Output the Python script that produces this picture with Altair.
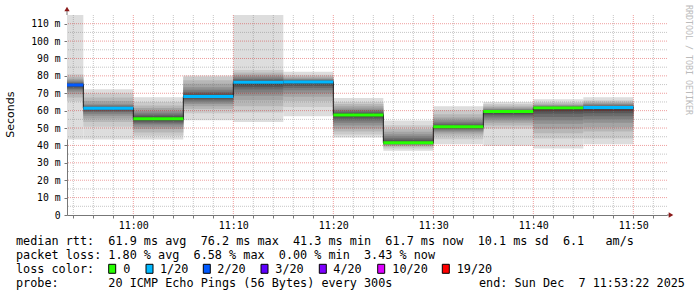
import altair as alt
import pandas as pd

# ---------------- data ----------------
bin_start = ["10:50", "10:55", "11:00", "11:05", "11:10", "11:15",
             "11:20", "11:25", "11:30", "11:35", "11:40", "11:45"]
bin_end = ["10:55", "11:00", "11:05", "11:10", "11:15", "11:20",
           "11:25", "11:30", "11:35", "11:40", "11:45", "11:50"]
median_ms = [74.8, 61.4, 55.3, 68.1, 76.3, 76.5, 57.5, 41.5, 50.7, 59.5, 61.6, 61.8]
lost_pings = [2, 1, 0, 1, 1, 1, 0, 0, 0, 0, 0, 1]

# sorted ping rtts (ms) per 5-minute step
pings_1050 = [43.4, 65.4, 67.5, 69.5, 70.8, 71.7, 72.5, 73.2, 73.8, 74.3,
              75.0, 75.3, 75.7, 76.2, 76.8, 77.5, 78.4, 79.5, 80.9, 118.0]
pings_1055 = [43.4, 50.7, 53.5, 55.5, 57.0, 58.2, 59.2, 60.0, 60.6, 61.0,
              61.6, 61.8, 62.1, 62.6, 63.2, 64.0, 65.5, 67.5, 69.8, 72.3]
pings_1100 = [43.4, 45.5, 47.5, 49.5, 50.8, 52.0, 52.8, 53.6, 54.3, 54.8,
              55.8, 56.3, 57.0, 57.8, 58.8, 60.0, 61.5, 63.0, 65.0, 67.7]
pings_1105 = [54.5, 58.5, 61.0, 62.5, 63.8, 64.8, 65.8, 66.6, 67.3, 67.8,
              68.5, 69.0, 69.8, 70.8, 72.0, 73.5, 75.5, 77.5, 79.5, 80.2]
pings_1110 = [53.5, 58.9, 62.5, 66.0, 68.5, 70.5, 72.2, 73.5, 74.6, 75.5,
              76.7, 77.0, 77.5, 78.2, 79.0, 79.8, 80.8, 82.0, 83.4, 117.0]
pings_1115 = [56.8, 62.1, 65.5, 68.0, 70.0, 71.7, 73.0, 74.2, 75.2, 75.9,
              76.7, 76.9, 77.2, 77.5, 77.9, 78.4, 79.0, 79.8, 80.6, 82.4]
pings_1120 = [44.5, 46.3, 48.0, 49.8, 51.5, 53.0, 54.3, 55.5, 56.4, 57.0,
              57.9, 58.3, 58.8, 59.5, 60.3, 61.3, 62.5, 63.8, 65.0, 67.3]
pings_1125 = [37.0, 38.3, 39.2, 39.8, 40.3, 40.7, 41.0, 41.2, 41.3, 41.4,
              41.9, 42.4, 43.2, 44.2, 45.3, 46.5, 47.8, 49.5, 51.6, 54.3]
pings_1130 = [40.7, 43.5, 45.5, 46.8, 47.8, 48.6, 49.3, 49.8, 50.2, 50.5,
              50.9, 51.3, 51.9, 52.6, 53.6, 54.8, 56.0, 58.0, 60.2, 62.5]
pings_1135 = [39.8, 49.7, 51.5, 53.0, 54.3, 55.5, 56.6, 57.6, 58.4, 59.0,
              59.6, 59.8, 60.0, 60.4, 60.8, 61.3, 62.0, 62.8, 63.8, 65.0]
pings_1140 = [38.3, 44.0, 47.0, 49.7, 52.5, 54.5, 56.4, 58.2, 59.7, 60.8,
              61.7, 61.9, 62.1, 62.4, 62.7, 63.1, 63.6, 64.2, 65.0, 66.6]
pings_1145 = [40.7, 44.0, 48.0, 50.5, 53.0, 55.0, 56.8, 58.5, 59.8, 60.9,
              62.0, 62.3, 62.6, 63.0, 63.5, 64.0, 64.6, 65.3, 66.0, 67.7]

x_tick_labels = ["11:00", "11:10", "11:20", "11:30", "11:40", "11:50"]
y_tick_values = [0, 10, 20, 30, 40, 50, 60, 70, 80, 90, 100, 110]
y_tick_labels = ["0", "10 m", "20 m", "30 m", "40 m", "50 m", "60 m",
                 "70 m", "80 m", "90 m", "100 m", "110 m"]

loss_levels = [0, 1, 2, 3, 4, 10, 19]
loss_labels = ["0", "1/20", "2/20", "3/20", "4/20", "10/20", "19/20"]
loss_colors = ["#26ff00", "#00b8ff", "#0059ff", "#5e00ff", "#7e00ff", "#dd00ff", "#ff0000"]

stats_rtt = "median rtt:  61.9 ms avg  76.2 ms max  41.3 ms min  61.7 ms now  10.1 ms sd  6.1   am/s"
stats_loss = "packet loss: 1.80 % avg  6.58 % max  0.00 % min  3.43 % now"
loss_title = "loss color:"
probe_text = "probe:       20 ICMP Echo Pings (56 Bytes) every 300s"
end_text = "end: Sun Dec  7 11:53:22 2025"
y_title = "Seconds"
watermark = "RRDTOOL / TOBI OETIKER"
window_end = "11:53:22"
window_minutes = 60
y_max = 115

# ---------------- helpers ----------------
def to_min(s):
    parts = [int(p) for p in s.split(":")]
    h, m = parts[0], parts[1]
    sec = parts[2] if len(parts) > 2 else 0
    return (h - 11) * 60 + m + sec / 60.0

def nb(s):
    return s.replace(" ", "\u00a0")

def label_expr(values, labels):
    expr = "''"
    for v, l in reversed(list(zip(values, labels))):
        expr = f"abs(datum.value - ({v})) < 0.01 ? '{l}' : ({expr})"
    return expr

x_max = to_min(window_end)
x_min = x_max - window_minutes

W, H = 600, 200
LEFT, TOP = 67, 15

all_pings = [pings_1050, pings_1055, pings_1100, pings_1105, pings_1110, pings_1115,
             pings_1120, pings_1125, pings_1130, pings_1135, pings_1140, pings_1145]

# smoke layers
rows = []
for b, pings in enumerate(all_pings):
    n = len(pings)
    half = n // 2
    for i in range(1, half + 1):
        g = int(190 / half * (half - i)) + 50
        rows.append({
            "x0": to_min(bin_start[b]), "x1": to_min(bin_end[b]),
            "lo": pings[i - 1], "hi": pings[n - i],
            "shade": "#" + f"{g:02x}" * 3, "layer": i,
        })
smoke = pd.DataFrame(rows).sort_values("layer", kind="stable")

color_of = dict(zip(loss_levels, loss_colors))
med = pd.DataFrame({
    "x0": [to_min(s) for s in bin_start],
    "x1": [to_min(s) for s in bin_end],
    "m": median_ms,
    "color": [color_of[l] for l in lost_pings],
})
bar_half = 0.85
med["mlo"] = med["m"] - bar_half
med["mhi"] = med["m"] + bar_half

line_df = pd.DataFrame({
    "t": [to_min(s) for s in bin_start] + [to_min(bin_end[-1])],
    "m": median_ms + [median_ms[-1]],
})

xs = alt.Scale(domain=[x_min, x_max], nice=False, zero=False)
ys = alt.Scale(domain=[0, y_max], nice=False, zero=False)

x_major = [to_min(s) for s in x_tick_labels]
x_minor_all = [v for v in range(-6, 53, 2)]
x_minor = [v for v in x_minor_all if v not in x_major]
y_minor = [v for v in range(5, 110, 10)]

axis_col = "#777777"
mono = "DejaVu Sans Mono"

x_axis = alt.Axis(values=sorted(set(x_minor_all + x_major)),
                  labelExpr=label_expr(x_major, x_tick_labels),
                  title=None, grid=False, domainColor=axis_col, tickColor=axis_col,
                  tickSize=3, labelPadding=2, labelFont=mono, labelFontSize=10,
                  labelColor="#000000", labelOverlap=False, labelFlush=False)
y_axis = alt.Axis(values=y_tick_values,
                  labelExpr=label_expr(y_tick_values, y_tick_labels),
                  title=None, grid=False, domainColor=axis_col, tickColor=axis_col,
                  tickSize=3, labelPadding=4, labelFont=mono, labelFontSize=9.75,
                  labelColor="#000000", labelOverlap=False, labelFlush=False)

def X(field):
    return alt.X(field, scale=xs, axis=x_axis)

def Y(field):
    return alt.Y(field, scale=ys, axis=y_axis)

smoke_layer = alt.Chart(smoke).mark_rect(clip=True).encode(
    x=X("x0:Q"), x2="x1:Q", y=Y("lo:Q"), y2="hi:Q",
    color=alt.Color("shade:N", scale=None),
    order=alt.Order("layer:Q"),
)

minor_grid = "rgba(128,128,128,0.45)"
major_grid = "rgba(210,0,0,0.38)"
vgrid_minor = alt.Chart(pd.DataFrame({"v": x_minor})).mark_rule(
    color=minor_grid, strokeDash=[1, 1], strokeWidth=1).encode(x=X("v:Q"))
vgrid_major = alt.Chart(pd.DataFrame({"v": x_major})).mark_rule(
    color=major_grid, strokeDash=[1, 1], strokeWidth=1).encode(x=X("v:Q"))
hgrid_minor = alt.Chart(pd.DataFrame({"v": y_minor})).mark_rule(
    color=minor_grid, strokeDash=[1, 1], strokeWidth=1).encode(y=Y("v:Q"))
hgrid_major = alt.Chart(pd.DataFrame({"v": y_tick_values[1:]})).mark_rule(
    color=major_grid, strokeDash=[1, 1], strokeWidth=1).encode(y=Y("v:Q"))

median_line = alt.Chart(line_df).mark_line(
    interpolate="step-after", color="#202020", strokeWidth=1, clip=True).encode(
    x=X("t:Q"), y=Y("m:Q"))

loss_bars = alt.Chart(med).mark_rect(clip=True).encode(
    x=X("x0:Q"), x2="x1:Q", y=Y("mlo:Q"), y2="mhi:Q",
    color=alt.Color("color:N", scale=None),
)

arrow_col = "#8b1a1a"
deco = [
    alt.Chart().mark_rule(color=axis_col, strokeWidth=1).encode(
        x=alt.value(0), y=alt.value(-5), y2=alt.value(0)),
    alt.Chart().mark_rule(color=axis_col, strokeWidth=1).encode(
        x=alt.value(W), x2=alt.value(W + 3), y=alt.value(H)),
    alt.Chart().mark_point(shape="triangle-up", filled=True, size=28,
                           color=arrow_col, opacity=1).encode(
        x=alt.value(0), y=alt.value(-6)),
    alt.Chart().mark_point(shape="triangle-right", filled=True, size=28,
                           color=arrow_col, opacity=1).encode(
        x=alt.value(W + 4), y=alt.value(H)),
]

# text block (pixel positions of the legend lines)
FS = 11.8
text_rows = [
    (16, 244.7, nb(stats_rtt)),
    (16, 258.7, nb(stats_loss)),
    (16, 272.7, nb(loss_title)),
    (16, 287.0, nb(probe_text)),
    (479, 287.0, nb(end_text)),
]
label_x = [123.3, 160.0, 217.3, 275.3, 333.3, 392.3, 456.7]
for lx, lab in zip(label_x, loss_labels):
    text_rows.append((lx, 272.7, lab))

texts = []
for tx, ty, tt in text_rows:
    texts.append(alt.Chart().mark_text(
        font=mono, fontSize=FS, align="left", baseline="alphabetic", color="#000000").encode(
        x=alt.value(tx - LEFT), y=alt.value(ty - TOP), text=alt.value(tt)))

square_x = [108.7, 146.0, 203.3, 261.0, 319.3, 377.7, 442.3]
squares = []
for sx, c in zip(square_x, loss_colors):
    squares.append(alt.Chart().mark_rect(stroke="#000000", strokeWidth=1, color=c).encode(
        x=alt.value(sx - LEFT), x2=alt.value(sx - LEFT + 7),
        y=alt.value(264.3 - TOP), y2=alt.value(273.3 - TOP)))

ytitle = alt.Chart().mark_text(font="DejaVu Sans", fontSize=11, angle=270,
                               align="center", baseline="middle", color="#000000").encode(
    x=alt.value(10.5 - LEFT), y=alt.value(114.7 - TOP), text=alt.value(y_title))
wm = alt.Chart().mark_text(font=mono, fontSize=8.3, angle=90, align="center",
                           baseline="middle", color="#bbbbbb").encode(
    x=alt.value(688 - LEFT), y=alt.value(60 - TOP), text=alt.value(watermark))

chart = alt.layer(
    smoke_layer, vgrid_minor, hgrid_minor, vgrid_major, hgrid_major,
    median_line, loss_bars, *deco, *texts, *squares, ytitle, wm,
).properties(
    width=W, height=H,
    padding={"left": LEFT, "top": TOP, "right": 697 - LEFT - W, "bottom": 297 - TOP - H},
    autosize=alt.AutoSizeParams(type="none"),
    background="#ffffff",
).configure_view(strokeWidth=0)

chart.save("out.html", embed_options={"renderer": "svg", "actions": False})
